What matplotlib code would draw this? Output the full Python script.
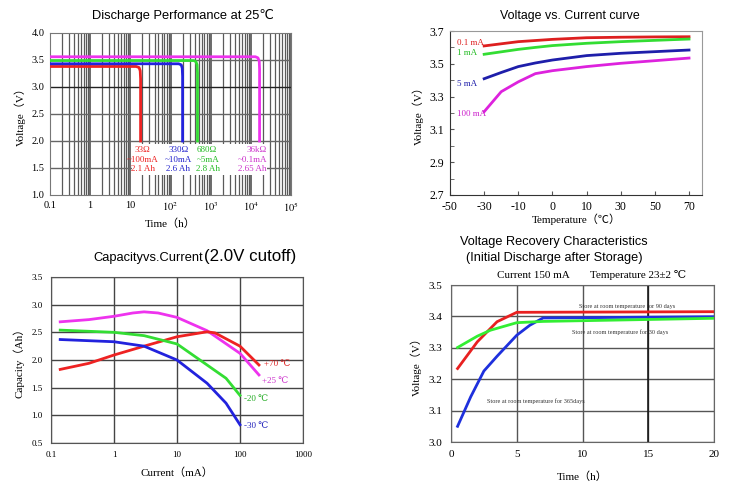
import matplotlib
matplotlib.use("Agg")
import matplotlib.pyplot as plt
import numpy as np
from matplotlib.patches import Rectangle
from matplotlib.ticker import FixedLocator, NullFormatter

W, H = 731, 496
SERIF = ["Liberation Serif", "DejaVu Serif", "Noto Sans CJK SC"]
SERIF_CJK = ["Liberation Serif", "Noto Sans CJK SC", "DejaVu Sans"]
SANS = ["Liberation Sans", "DejaVu Sans"]
plt.rcParams["mathtext.fontset"] = "stix"

# --- Discharge performance at 25 C (time in h, voltage in V) ---
DIS_RED_T = [0.1, 14, 16.5, 17.6, 18, 18]
DIS_RED_V = [3.38, 3.38, 3.36, 3.30, 3.15, 2.0]
DIS_BLUE_T = [0.1, 160, 185, 196, 200, 200]
DIS_BLUE_V = [3.43, 3.43, 3.41, 3.35, 3.20, 2.0]
DIS_GREEN_T = [0.1, 380, 430, 460, 470, 470]
DIS_GREEN_V = [3.49, 3.49, 3.47, 3.41, 3.26, 2.0]
DIS_MAG_T = [0.1, 13000, 15000, 16200, 16500, 16500]
DIS_MAG_V = [3.56, 3.56, 3.54, 3.48, 3.33, 2.0]
DIS_LABELS = [
    ("33Ω\n~100mA\n2.1 Ah", 20.4, "center"),
    ("330Ω\n~10mA\n2.6 Ah", 158, "center"),
    ("680Ω\n~5mA\n2.8 Ah", 440, "left"),
    ("36kΩ\n~0.1mA\n2.65 Ah", 25000, "right"),
]
DIS_XTICKS = [0.1, 1, 10, 100, 1000, 10000, 100000]
DIS_XLABELS = ["0.1", "1", "10", r"$10^{2}$", r"$10^{3}$", r"$10^{4}$", r"$10^{5}$"]

# --- Voltage vs current (temperature in C) ---
VC_TICK_TEMPS = [-50, -30, -10, 0, 10, 30, 50, 70]
VC_TEMP = [-30, -20, -10, -5, 0, 10, 30, 50, 70]
VC_01MA = [3.609, 3.622, 3.635, 3.642, 3.649, 3.659, 3.662, 3.664, 3.665]
VC_1MA = [3.558, 3.573, 3.588, 3.600, 3.611, 3.625, 3.635, 3.643, 3.651]
VC_5MA = [3.409, 3.447, 3.483, 3.505, 3.523, 3.550, 3.564, 3.574, 3.584]
VC_100MA = [3.208, 3.330, 3.390, 3.440, 3.458, 3.483, 3.503, 3.519, 3.535]

# --- Capacity vs current (current in mA, capacity in Ah) ---
CAP_I_P25 = [0.14, 0.4, 1, 2, 3, 5, 10, 30, 100, 200]
CAP_P25 = [2.69, 2.73, 2.79, 2.85, 2.87, 2.85, 2.77, 2.53, 2.12, 1.73]
CAP_I_P70 = [0.14, 0.4, 1, 3, 10, 30, 40, 100, 200]
CAP_P70 = [1.83, 1.94, 2.09, 2.25, 2.42, 2.51, 2.49, 2.25, 1.91]
CAP_I_M20 = [0.14, 1, 3, 10, 30, 60, 100]
CAP_M20 = [2.54, 2.50, 2.44, 2.29, 1.91, 1.67, 1.36]
CAP_I_M30 = [0.14, 1, 3, 10, 30, 60, 100]
CAP_M30 = [2.37, 2.33, 2.25, 2.00, 1.58, 1.22, 0.83]

# --- Voltage recovery (time in h, voltage in V) ---
REC_90_T = [0.5, 2, 3.5, 5, 20]
REC_90_V = [3.234, 3.319, 3.383, 3.413, 3.415]
REC_30_T = [0.5, 2, 3, 5, 7, 20]
REC_30_V = [3.301, 3.337, 3.356, 3.380, 3.384, 3.394]
REC_365_T = [0.5, 1.5, 2.5, 3.5, 5, 6, 7, 20]
REC_365_V = [3.05, 3.144, 3.226, 3.273, 3.340, 3.372, 3.395, 3.399]


def px_axes(fig, left, top, right, bottom):
    return fig.add_axes([left / W, 1 - bottom / H, (right - left) / W, (bottom - top) / H])


def style_ticks(ax, size):
    for lab in ax.get_xticklabels() + ax.get_yticklabels():
        lab.set_family(SERIF)
        lab.set_fontsize(size)


fig = plt.figure(figsize=(W / 100, H / 100), dpi=100)

# ---------------- panel 1 ----------------
ax1 = px_axes(fig, 50, 33, 291, 195)
ax1.set_xscale("log")
ax1.set_xlim(0.1, 1e5)
ax1.set_ylim(1.0, 4.0)
ax1.set_axisbelow(True)
ax1.xaxis.set_major_locator(FixedLocator(DIS_XTICKS))
ax1.set_xticklabels(DIS_XLABELS)
minor = [m * 10.0 ** e for e in range(-1, 5) for m in range(2, 10)]
ax1.xaxis.set_minor_locator(FixedLocator(minor))
ax1.xaxis.set_minor_formatter(NullFormatter())
ax1.set_yticks(np.arange(1.0, 4.01, 0.5))
ax1.grid(True, which="major", axis="x", color="#444444", lw=1.1)
ax1.grid(True, which="minor", axis="x", color="#5a5a5a", lw=0.9)
for yv in np.arange(1.5, 4.0, 0.5):
    ax1.axhline(yv, color="#222222" if yv == 3.0 else "#666666", lw=1.0, zorder=0.6)
ax1.tick_params(which="both", length=0, pad=4)
style_ticks(ax1, 7.5)
for sp in ax1.spines.values():
    sp.set_color("#777777")
ax1.add_patch(Rectangle((11.2, 1.37), 25100 - 11.2, 0.575, facecolor="white",
                        edgecolor="none", zorder=1))
ax1.plot(DIS_RED_T, DIS_RED_V, color="#ee2222", lw=2, zorder=3)
ax1.plot(DIS_BLUE_T, DIS_BLUE_V, color="#2222dd", lw=2, zorder=3)
ax1.plot(DIS_GREEN_T, DIS_GREEN_V, color="#33dd33", lw=2, zorder=3)
ax1.plot(DIS_MAG_T, DIS_MAG_V, color="#ee33ee", lw=2, zorder=3)
dis_colors = ["#ee2222", "#2222cc", "#22bb22", "#cc33cc"]
for (txt, xv, ha), c in zip(DIS_LABELS, dis_colors):
    ax1.text(xv, 1.91, txt, color=c, ha=ha, va="top", fontsize=6.5,
             family=SERIF, linespacing=1.3, zorder=4)
fig.text(183 / W, 1 - 16 / H, "Discharge Performance at 25℃", family=SANS,
         fontsize=9.3, ha="center", va="center")
ax1.set_ylabel("Voltage（V）", family=SERIF_CJK, fontsize=8, labelpad=4)
ax1.set_xlabel("Time（h）", family=SERIF_CJK, fontsize=8, labelpad=3)

# ---------------- panel 2 ----------------
ax2 = px_axes(fig, 450, 31, 702, 195)
knots_t = [-70] + VC_TICK_TEMPS + [90]
knots_p = [-1] + list(range(len(VC_TICK_TEMPS))) + [len(VC_TICK_TEMPS)]
ax2.set_xscale("function", functions=(lambda t: np.interp(t, knots_t, knots_p),
                                      lambda p: np.interp(p, knots_p, knots_t)))
ax2.set_xlim(-50, 77.6)
ax2.set_ylim(2.7, 3.7)
ax2.xaxis.set_major_locator(FixedLocator(VC_TICK_TEMPS))
ax2.xaxis.set_major_formatter(matplotlib.ticker.FuncFormatter(lambda v, p: f"{v:.0f}"))
ax2.xaxis.set_minor_locator(matplotlib.ticker.NullLocator())
ax2.set_yticks(np.arange(2.7, 3.71, 0.2))
ax2.set_yticks(np.arange(2.8, 3.7, 0.2), minor=True)
ax2.tick_params(which="both", direction="in", length=3, color="#555555", pad=4)
style_ticks(ax2, 8.5)
ax2.set_yticklabels([f"{v:.1f}" for v in np.arange(2.7, 3.71, 0.2)], family=SERIF, fontsize=8.5)
for sp in ax2.spines.values():
    sp.set_color("#999999")
ax2.spines["left"].set_color("#333333")
ax2.spines["bottom"].set_color("#333333")
ax2.plot(VC_TEMP, VC_01MA, color="#dd1f1f", lw=2)
ax2.plot(VC_TEMP, VC_1MA, color="#33dd33", lw=2)
ax2.plot(VC_TEMP, VC_5MA, color="#1e1eaa", lw=2)
ax2.plot(VC_TEMP, VC_100MA, color="#dd22dd", lw=2)
ax2.text(-46, 3.628, "0.1 mA", color="#dd1f1f", fontsize=6.5, family=SERIF, va="center")
ax2.text(-46, 3.563, "1 mA", color="#22bb22", fontsize=6.5, family=SERIF, va="center")
ax2.text(-46, 3.375, "5 mA", color="#1e1eaa", fontsize=6.5, family=SERIF, va="center")
ax2.text(-46, 3.192, "100 mA", color="#cc22cc", fontsize=6.5, family=SERIF, va="center")
fig.text(570 / W, 1 - 16 / H, "Voltage vs. Current curve", family=SANS,
         fontsize=8.9, ha="center", va="center")
ax2.set_ylabel("Voltage（V）", family=SERIF_CJK, fontsize=8, labelpad=4)
ax2.set_xlabel("Temperature（℃）", family=SERIF_CJK, fontsize=8, labelpad=1)

# ---------------- panel 3 ----------------
ax3 = px_axes(fig, 51, 277, 303, 443)
ax3.set_xscale("log")
ax3.set_xlim(0.1, 1000)
ax3.set_ylim(0.5, 3.5)
ax3.set_axisbelow(True)
ax3.xaxis.set_major_locator(FixedLocator([0.1, 1, 10, 100, 1000]))
ax3.set_xticklabels(["0.1", "1", "10", "100", "1000"])
ax3.xaxis.set_minor_locator(matplotlib.ticker.NullLocator())
ax3.set_yticks(np.arange(0.5, 3.51, 0.5))
ax3.grid(True, color="#444444", lw=1.0)
ax3.tick_params(which="both", length=0, pad=6)
style_ticks(ax3, 6.5)
for sp in ax3.spines.values():
    sp.set_color("#555555")
ax3.plot(CAP_I_P25, CAP_P25, color="#ee33ee", lw=2)
ax3.plot(CAP_I_P70, CAP_P70, color="#ee2222", lw=2)
ax3.plot(CAP_I_M20, CAP_M20, color="#33dd33", lw=2)
ax3.plot(CAP_I_M30, CAP_M30, color="#2222dd", lw=2)
ax3.text(240, 1.92, "+70 ℃", color="#dd2222", fontsize=6.5, family=SERIF, va="center")
ax3.text(220, 1.62, "+25 ℃", color="#cc33cc", fontsize=6.5, family=SERIF, va="center")
ax3.text(115, 1.30, "-20 ℃", color="#22aa22", fontsize=6.5, family=SERIF, va="center")
ax3.text(115, 0.80, "-30 ℃", color="#2222bb", fontsize=6.5, family=SERIF, va="center")
fig.text(203 / W, 1 - 261 / H, "Capacityvs.Current", family=SANS, fontsize=9.3,
         ha="right", va="baseline")
fig.text(204 / W, 1 - 261 / H, "(2.0V cutoff)", family=SANS, fontsize=12.2,
         ha="left", va="baseline")
ax3.set_ylabel("Capacity（Ah）", family=SERIF_CJK, fontsize=8, labelpad=5)
ax3.set_xlabel("Current（mA）", family=SERIF_CJK, fontsize=8, labelpad=6)

# ---------------- panel 4 ----------------
ax4 = px_axes(fig, 451, 285, 714, 442)
ax4.set_xlim(0, 20)
ax4.set_ylim(3.0, 3.5)
ax4.set_axisbelow(True)
ax4.set_xticks([0, 5, 10, 15, 20])
ax4.set_yticks(np.arange(3.0, 3.51, 0.1))
ax4.set_yticklabels([f"{v:.1f}" for v in np.arange(3.0, 3.51, 0.1)])
ax4.grid(True, color="#555555", lw=1.0)
ax4.axvline(15, color="#111111", lw=1.1, zorder=0.7)
ax4.tick_params(which="both", length=0, pad=6)
style_ticks(ax4, 8)
for sp in ax4.spines.values():
    sp.set_color("#666666")
ax4.plot(REC_90_T, REC_90_V, color="#e82020", lw=2)
ax4.plot(REC_365_T, REC_365_V, color="#1e30dd", lw=2)
ax4.plot(REC_30_T, REC_30_V, color="#33ee33", lw=2)
ax4.text(9.7, 3.433, "Store at room temperature for 90 days", fontsize=4.5,
         family=SERIF, va="center", color="#333333")
ax4.text(9.2, 3.351, "Store at room temperature for 30 days", fontsize=4.5,
         family=SERIF, va="center", color="#333333")
ax4.text(2.7, 3.131, "Store at room temperature for 365days", fontsize=4.5,
         family=SERIF, va="center", color="#333333")
fig.text(554 / W, 1 - 242 / H, "Voltage Recovery Characteristics", family=SANS,
         fontsize=9.2, ha="center", va="center")
fig.text(554 / W, 1 - 258 / H, "(Initial Discharge after Storage)", family=SANS,
         fontsize=9.2, ha="center", va="center")
fig.text(497 / W, 1 - 275 / H, "Current 150 mA", family=SERIF, fontsize=8,
         ha="left", va="center")
fig.text(590 / W, 1 - 275 / H, "Temperature 23±2 ℃", family=SERIF, fontsize=8,
         ha="left", va="center")
ax4.set_ylabel("Voltage（V）", family=SERIF_CJK, fontsize=8, labelpad=5)
ax4.set_xlabel("Time（h）", family=SERIF_CJK, fontsize=8, labelpad=9)

fig.savefig("out.png", dpi=100)
